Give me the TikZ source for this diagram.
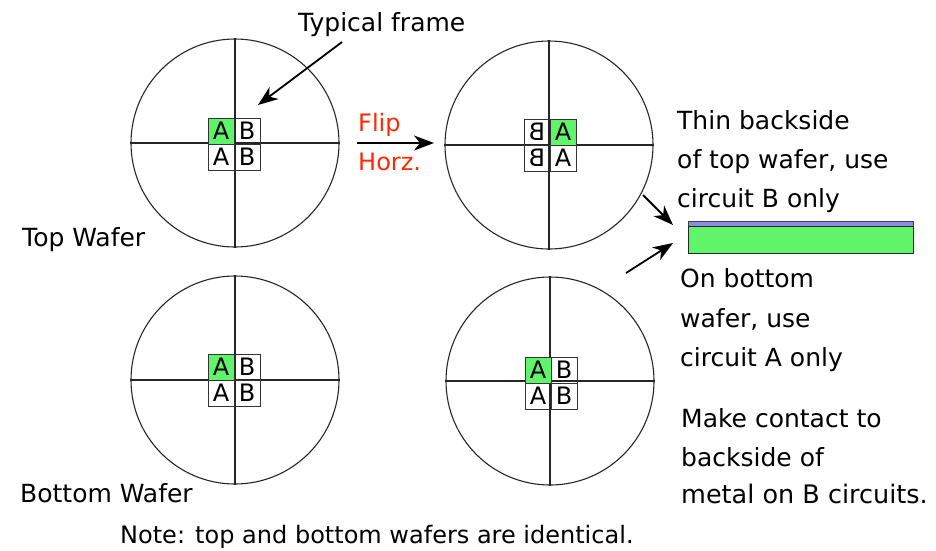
\documentclass[tikz,border=0pt]{standalone}
\usepackage{fontspec}
\setmainfont{DejaVu Sans}
\usepackage{graphicx}
\usetikzlibrary{arrows.meta}
\definecolor{chipgreen}{RGB}{96,244,106}
\definecolor{stripblue}{RGB}{140,140,235}
\definecolor{flipred}{RGB}{255,40,0}
\begin{document}
\begin{tikzpicture}[x=1pt,y=-1pt,
  wafer/.style={circle,draw=black!85,line width=1.1pt,minimum size=208pt,inner sep=0},
  cross/.style={draw=black!85,line width=1.1pt},
  cell/.style={draw=black!80,line width=1pt,minimum size=26pt,inner sep=0,font=\fontsize{24}{24}\selectfont},
  gcell/.style={cell,fill=chipgreen},
  lbl/.style={anchor=base west,inner sep=0,font=\fontsize{25}{30}\selectfont},
  arr/.style={line width=1.8pt,-{Stealth[length=20pt,width=15pt,inset=6pt]}}
]
\useasboundingbox (0,0) rectangle (936,550);

% wafers
\node[wafer] (tl) at (235,143) {};
\draw[cross] (tl.west) -- (tl.east);
\draw[cross] (tl.north) -- (tl.south);
\node[wafer] (tr) at (549,145) {};
\draw[cross] (tr.west) -- (tr.east);
\draw[cross] (tr.north) -- (tr.south);
\node[wafer] (bl) at (235,380) {};
\draw[cross] (bl.west) -- (bl.east);
\draw[cross] (bl.north) -- (bl.south);
\node[wafer] (br) at (550,381) {};
\draw[cross] (br.west) -- (br.east);
\draw[cross] (br.north) -- (br.south);

% frames
\node[gcell] (tlA1) at (221,131) {A};
\node[cell]  (tlB1) at (247,131) {B};
\node[cell]  (tlA2) at (221,157) {A};
\node[cell]  (tlB2) at (247,157) {B};

\node[cell]  (trB1) at (537,132) {\scalebox{-1}[1]{B}};
\node[gcell] (trA1) at (563,132) {A};
\node[cell]  (trB2) at (537,158) {\scalebox{-1}[1]{B}};
\node[cell]  (trA2) at (563,158) {A};

\node[gcell] (blA1) at (221,367) {A};
\node[cell]  (blB1) at (247,367) {B};
\node[cell]  (blA2) at (221,393) {A};
\node[cell]  (blB2) at (247,393) {B};

\node[gcell] (brA1) at (538,370) {A};
\node[cell]  (brB1) at (564,370) {B};
\node[cell]  (brA2) at (538,396) {A};
\node[cell]  (brB2) at (564,396) {B};

% labels
\node[lbl,font=\fontsize{25}{30}\selectfont] (typ) at (298,31) {Typical frame};
\node[lbl] (topw) at (22,246) {Top Wafer};
\node[lbl] (botw) at (20,502) {Bottom Wafer};
\node[lbl,font=\fontsize{24}{28}\selectfont] (note) at (120,543) {Note: top and bottom wafers are identical.};
\node[lbl,text=flipred,font=\fontsize{24}{28}\selectfont] (flip) at (358,131) {Flip};
\node[lbl,text=flipred,font=\fontsize{24}{28}\selectfont] (horz) at (358,170) {Horz.};

\node[lbl] (t1) at (677,129) {Thin backside};
\node[lbl] (t2) at (677,168) {of top wafer, use};
\node[lbl] (t3) at (677,207) {circuit B only};
\node[lbl] (b1) at (680,287) {On bottom};
\node[lbl] (b2) at (680,327) {wafer, use};
\node[lbl] (b3) at (680,366) {circuit A only};
\node[lbl] (m1) at (681,427) {Make contact to};
\node[lbl] (m2) at (681,466) {backside of};
\node[lbl,font=\fontsize{25.5}{30}\selectfont] (m3) at (681,503) {metal on B circuits.};

% stacked wafer cross-section
\node[draw=black!75,line width=0.8pt,fill=stripblue,anchor=north west,minimum width=225pt,minimum height=5pt,inner sep=0] (strip) at (688,221) {};
\node[draw=black!85,line width=1pt,fill=chipgreen,anchor=north west,minimum width=225pt,minimum height=27pt,inner sep=0] (base) at (688,226) {};

% arrows
\coordinate (typtail) at (342,42);
\coordinate (typtip) at (258,105);
\draw[arr] (typtail) -- (typtip);
\coordinate (fliptail) at (357,143);
\coordinate (fliptip) at (434,143);
\draw[arr] (fliptail) -- (fliptip);
\coordinate (a1tail) at (643,195);
\coordinate (a1tip) at (673,225);
\draw[arr] (a1tail) -- (a1tip);
\coordinate (a2tail) at (626,273);
\coordinate (a2tip) at (673,243);
\draw[arr] (a2tail) -- (a2tip);
\end{tikzpicture}
\end{document}
